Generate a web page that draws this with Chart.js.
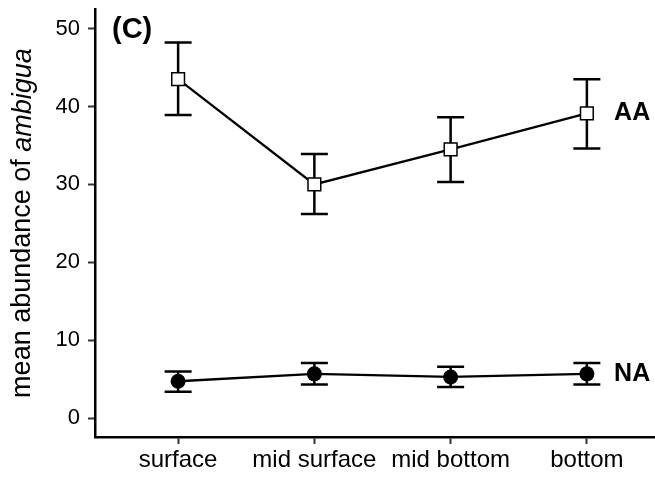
<!DOCTYPE html>
<html>
<head>
<meta charset="utf-8">
<script src="https://cdn.jsdelivr.net/npm/chart.js@4"></script>
<style>
  html, body { margin: 0; padding: 0; background: #fff; }
  #wrap { width: 655px; height: 479px; }
</style>
</head>
<body>
<div id="wrap"><canvas id="chart"></canvas></div>
<script>
const depths = ['surface', 'mid surface', 'mid bottom', 'bottom'];
const depthPos = [1, 2, 3, 4];
const yTicks = [0, 10, 20, 30, 40, 50];

const aaMean = [43.5, 30.0, 34.5, 39.1];
const aaLow = [38.9, 26.2, 30.3, 34.6];
const aaHigh = [48.2, 33.9, 38.6, 43.5];

const naMean = [4.75, 5.7, 5.3, 5.7];
const naLow = [3.4, 4.35, 4.0, 4.35];
const naHigh = [6.0, 7.1, 6.6, 7.1];

const groupNames = ['AA', 'NA'];

const toPoints = vals => vals.map((v, i) => ({ x: depthPos[i], y: v }));

// error bars under the markers
const errorBars = {
    id: 'errorBars',
    beforeDatasetsDraw(chart) {
        const { ctx, scales: { x, y } } = chart;
        const groups = [[aaLow, aaHigh], [naLow, naHigh]];
        ctx.save();
        ctx.strokeStyle = '#000';
        ctx.lineWidth = 2.5;
        groups.forEach(([lo, hi]) => {
            lo.forEach((l, i) => {
                const px = x.getPixelForValue(depthPos[i]);
                const y1 = y.getPixelForValue(l);
                const y2 = y.getPixelForValue(hi[i]);
                ctx.beginPath();
                ctx.moveTo(px, y1); ctx.lineTo(px, y2);
                ctx.moveTo(px - 13.5, y1); ctx.lineTo(px + 13.5, y1);
                ctx.moveTo(px - 13.5, y2); ctx.lineTo(px + 13.5, y2);
                ctx.stroke();
            });
        });
        ctx.restore();
    }
};

// panel tag, group labels and the y title with italic species name
const annotations = {
    id: 'annotations',
    afterDraw(chart) {
        const { ctx, scales: { x, y }, chartArea } = chart;
        ctx.save();
        ctx.fillStyle = '#000';
        ctx.textBaseline = 'middle';

        ctx.font = 'bold 29px "Liberation Sans", Arial, sans-serif';
        ctx.textAlign = 'left';
        ctx.fillText('(C)', 112, 30);

        ctx.font = 'bold 25px "Liberation Sans", Arial, sans-serif';
        const lx = x.getPixelForValue(4.2);
        ctx.fillText(groupNames[0], lx, y.getPixelForValue(aaMean[3]));
        ctx.fillText(groupNames[1], lx, y.getPixelForValue(naMean[3]));

        const plain = 'mean abundance of ';
        const ital = 'ambigua';
        const fPlain = '27px "Liberation Sans", Arial, sans-serif';
        const fItal = 'italic 27px "Liberation Sans", Arial, sans-serif';
        ctx.font = fPlain;
        const w1 = ctx.measureText(plain).width;
        ctx.font = fItal;
        const w2 = ctx.measureText(ital).width;
        ctx.translate(23, (chartArea.top + chartArea.bottom) / 2);
        ctx.rotate(-Math.PI / 2);
        ctx.textAlign = 'left';
        const start = -(w1 + w2) / 2;
        ctx.font = fPlain;
        ctx.fillText(plain, start, 0);
        ctx.font = fItal;
        ctx.fillText(ital, start + w1, 0);
        ctx.restore();
    }
};

const noPad = scale => {
    scale.paddingLeft = 0;
    scale.paddingRight = 0;
    scale.paddingTop = 0;
    scale.paddingBottom = 0;
};

new Chart(document.getElementById('chart'), {
    type: 'line',
    data: {
        datasets: [{
            label: groupNames[0],
            data: toPoints(aaMean),
            borderColor: '#000',
            borderWidth: 2.3,
            pointStyle: 'rect',
            pointRadius: 9,
            pointBorderWidth: 1.5,
            pointBackgroundColor: '#fff',
            pointBorderColor: '#000'
        }, {
            label: groupNames[1],
            data: toPoints(naMean),
            borderColor: '#000',
            borderWidth: 2.3,
            pointStyle: 'circle',
            pointRadius: 7.5,
            pointBorderWidth: 0,
            pointBackgroundColor: '#000',
            pointBorderColor: '#000'
        }]
    },
    options: {
        responsive: true,
        maintainAspectRatio: false,
        animation: false,
        layout: { autoPadding: false, padding: { top: 9, right: 0, left: 0, bottom: 0 } },
        plugins: {
            legend: { display: false },
            tooltip: { enabled: false }
        },
        scales: {
            x: {
                type: 'linear',
                min: 0.39,
                max: 4.5,
                afterBuildTicks: scale => { scale.ticks = depthPos.map(v => ({ value: v })); },
                afterFit: scale => { scale.height = 42; noPad(scale); },
                ticks: {
                    callback: v => depths[v - 1],
                    color: '#000',
                    font: { family: '"Liberation Sans", Arial, sans-serif', size: 24 },
                    padding: 2,
                    maxRotation: 0,
                    autoSkip: false
                },
                grid: { drawOnChartArea: false, tickLength: 7, color: '#333', tickWidth: 2 },
                border: { color: '#000', width: 2.5 }
            },
            y: {
                min: -2.4,
                max: 52.5,
                afterBuildTicks: scale => { scale.ticks = yTicks.map(v => ({ value: v })); },
                afterFit: scale => { scale.width = 95; noPad(scale); },
                ticks: {
                    color: '#000',
                    font: { family: '"Liberation Sans", Arial, sans-serif', size: 22 },
                    padding: 8
                },
                grid: { drawOnChartArea: false, tickLength: 7, color: '#333', tickWidth: 2 },
                border: { color: '#000', width: 2.5 }
            }
        }
    },
    plugins: [errorBars, annotations]
});
</script>
</body>
</html>
